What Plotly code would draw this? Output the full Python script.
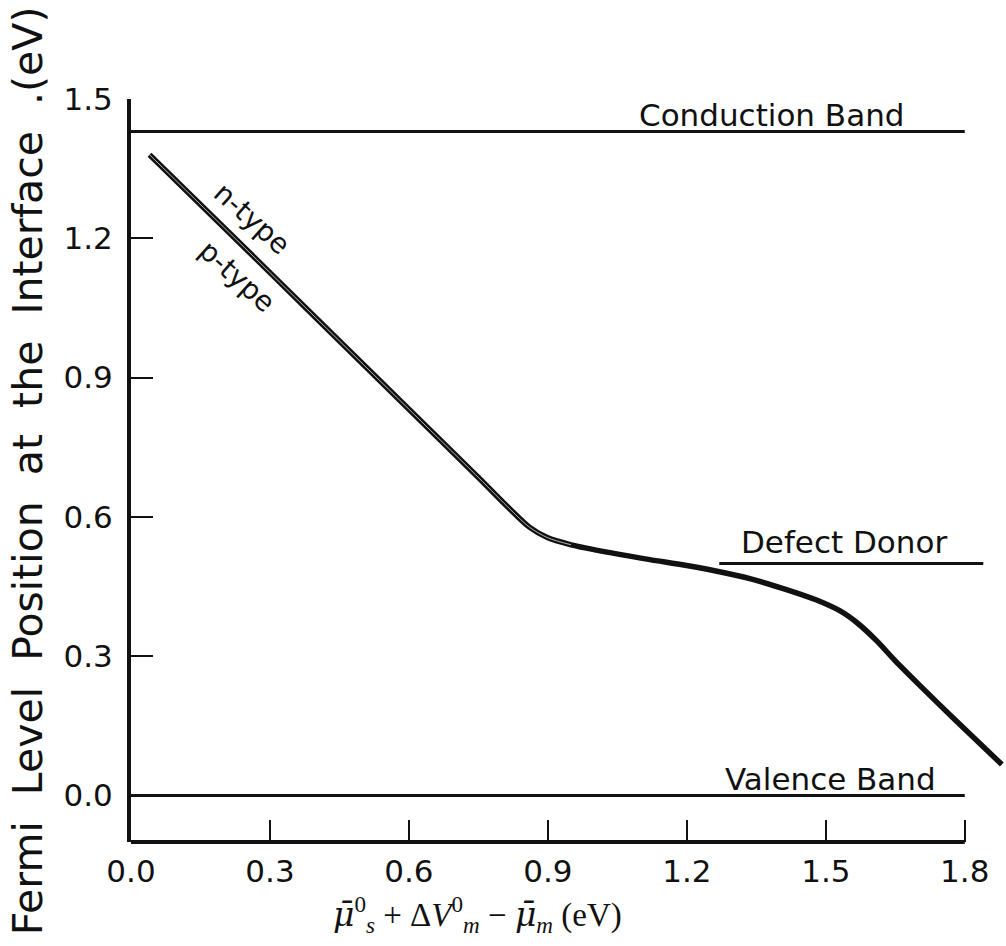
import plotly.graph_objects as go

# Fermi level position at the interface vs. metal/semiconductor chemical potential difference
x_ev = [0.04, 0.20, 0.40, 0.60, 0.75, 0.82, 0.86, 0.90, 0.95, 1.04, 1.12, 1.19,
        1.26, 1.34, 1.42, 1.48, 1.53, 1.57, 1.61, 1.65, 1.70, 1.78, 1.88]
fermi_ev = [1.380, 1.224, 1.028, 0.832, 0.685, 0.615, 0.578, 0.555, 0.540, 0.522, 0.508, 0.497,
            0.484, 0.466, 0.442, 0.421, 0.398, 0.370, 0.333, 0.290, 0.240, 0.162, 0.067]

# Reference levels (eV)
band_names = ["Conduction Band", "Defect Donor", "Valence Band"]
band_levels = [1.43, 0.50, 0.00]
band_x_start = [0.0, 1.27, 0.0]
band_x_end = [1.80, 1.84, 1.80]

x_ticks = [0.0, 0.3, 0.6, 0.9, 1.2, 1.5, 1.8]
y_ticks = [0.0, 0.3, 0.6, 0.9, 1.2, 1.5]

X_MAX = 1.889
INK = "#111"
label_font = dict(family="DejaVu Sans", size=31, color=INK)

fig = go.Figure()

for name, lvl, xs, xe in zip(band_names, band_levels, band_x_start, band_x_end):
    fig.add_trace(go.Scatter(x=[xs, xe], y=[lvl, lvl], mode="lines",
                             line=dict(color=INK, width=3), cliponaxis=False,
                             hoverinfo="skip", showlegend=False))

# n-type and p-type curves nearly coincide: thick stroke with a thin light core
fig.add_trace(go.Scatter(x=x_ev, y=fermi_ev, mode="lines", name="n-type",
                         line=dict(color=INK, width=5.5, shape="spline", smoothing=0.8),
                         cliponaxis=False, showlegend=False))
fig.add_trace(go.Scatter(x=x_ev[:9], y=fermi_ev[:9], mode="lines", name="p-type",
                         line=dict(color="#dddddd", width=0.8, shape="spline", smoothing=0.8),
                         cliponaxis=False, showlegend=False))

# Bottom axis line stops at 1.8
fig.add_shape(type="line", xref="paper", yref="paper", x0=0, x1=1.8 / X_MAX, y0=0, y1=0,
              line=dict(color=INK, width=4))

annotations = [
    dict(x=1.383, y=1.466, text="Conduction Band"),
    dict(x=1.539, y=0.546, text="Defect Donor"),
    dict(x=1.511, y=0.035, text="Valence Band"),
    dict(x=0.261, y=1.243, text="n-type", textangle=42, font=dict(family="DejaVu Sans", size=28, color=INK)),
    dict(x=0.229, y=1.118, text="p-type", textangle=42, font=dict(family="DejaVu Sans", size=28, color=INK)),
]
for a in annotations:
    a.setdefault("font", label_font)
    fig.add_annotation(xref="x", yref="y", showarrow=False, **a)

# Axis titles
fig.add_annotation(xref="paper", yref="paper", x=-0.118, y=0.5, xanchor="center",
                   yanchor="middle", showarrow=False, textangle=-90,
                   text="Fermi  Level  Position  at  the  Interface  .(eV)",
                   font=dict(family="DejaVu Sans", size=41, color=INK))
mu_bar = '<span style="font-family:DejaVu Serif"><i>μ̄</i></span>'
fig.add_annotation(xref="x", yref="paper", x=0.749, y=-0.098, xanchor="center",
                   yanchor="middle", showarrow=False,
                   text=mu_bar + "<sup>0</sup><sub><i>s</i></sub> + Δ<i>V</i><sup>0</sup><sub><i>m</i></sub>"
                        " − " + mu_bar + "<sub><i>m</i></sub> (eV)",
                   font=dict(family="Liberation Serif", size=33, color=INK))

fig.update_layout(
    width=1006, height=946,
    margin=dict(l=131, r=0, t=99, b=104),
    paper_bgcolor="white", plot_bgcolor="white",
    xaxis=dict(range=[0, X_MAX], tickvals=x_ticks, tickformat=".1f",
               ticks="inside", ticklen=22, tickwidth=2, tickcolor=INK,
               showgrid=False, zeroline=False, showline=False,
               tickfont=dict(family="DejaVu Sans", size=31, color=INK),
               ticklabelstandoff=8),
    yaxis=dict(range=[-0.1, 1.5], tickvals=y_ticks, tickformat=".1f",
               ticks="inside", ticklen=22, tickwidth=2, tickcolor=INK,
               showgrid=False, zeroline=False, showline=True, linewidth=4, linecolor=INK,
               tickfont=dict(family="DejaVu Sans", size=31, color=INK),
               ticklabelstandoff=8),
)

fig.write_html("out.html")
